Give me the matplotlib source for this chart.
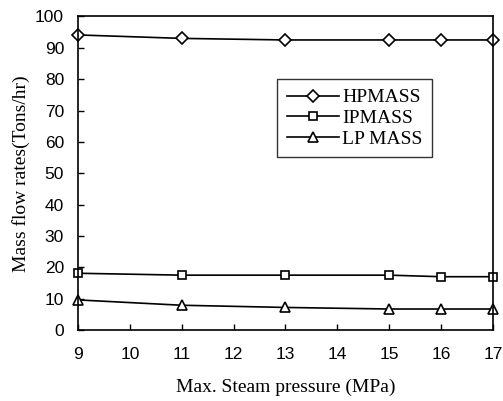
import numpy as np
import matplotlib.pyplot as plt

pressure = [9, 11, 13, 15, 16, 17]
hp_mass = [94.1, 93.0, 92.5, 92.5, 92.5, 92.5]
ip_mass = [18.1, 17.5, 17.5, 17.5, 17.0, 17.0]
lp_mass = [9.6, 7.9, 7.2, 6.7, 6.7, 6.7]

serif = ['Liberation Serif', 'DejaVu Serif']
sans = ['Liberation Sans', 'DejaVu Sans']

fig = plt.figure(figsize=(5.03, 4.01), dpi=100)
ax = fig.add_axes([0.155, 0.177, 0.825, 0.782])

style = dict(color='black', lw=1.2, mfc='white', mec='black', mew=1.2, clip_on=False)
ax.plot(pressure, hp_mass, marker='D', ms=6, label='HPMASS', **style)
ax.plot(pressure, ip_mass, marker='s', ms=6, label='IPMASS', **style)
ax.plot(pressure, lp_mass, marker='^', ms=7.5, label='LP MASS', **style)

ax.set_xlim(9, 17)
ax.set_ylim(0, 100)
ax.set_xticks(np.arange(9, 18, 1))
ax.set_yticks(np.arange(0, 101, 10))
ax.tick_params(direction='in', length=4, width=1, labelsize=12.5)
ax.tick_params(axis='y', pad=10)
ax.tick_params(axis='x', pad=12)
for lab in ax.get_xticklabels() + ax.get_yticklabels():
    lab.set_family(sans)
for s in ax.spines.values():
    s.set_linewidth(1.2)

ax.set_xlabel('Max. Steam pressure (MPa)', family=serif, fontsize=14, labelpad=12)
ax.set_ylabel('Mass flow rates(Tons/hr)', family=serif, fontsize=14, labelpad=4)

leg = ax.legend(loc='upper left', bbox_to_anchor=(0.48, 0.8), frameon=True,
                fancybox=False, edgecolor='black', prop={'family': serif, 'size': 14},
                handlelength=2.7, labelspacing=0.15, borderpad=0.5, handletextpad=0.15,
                borderaxespad=0)
leg.get_frame().set_linewidth(1.0)

fig.savefig('out.png', dpi=100)
